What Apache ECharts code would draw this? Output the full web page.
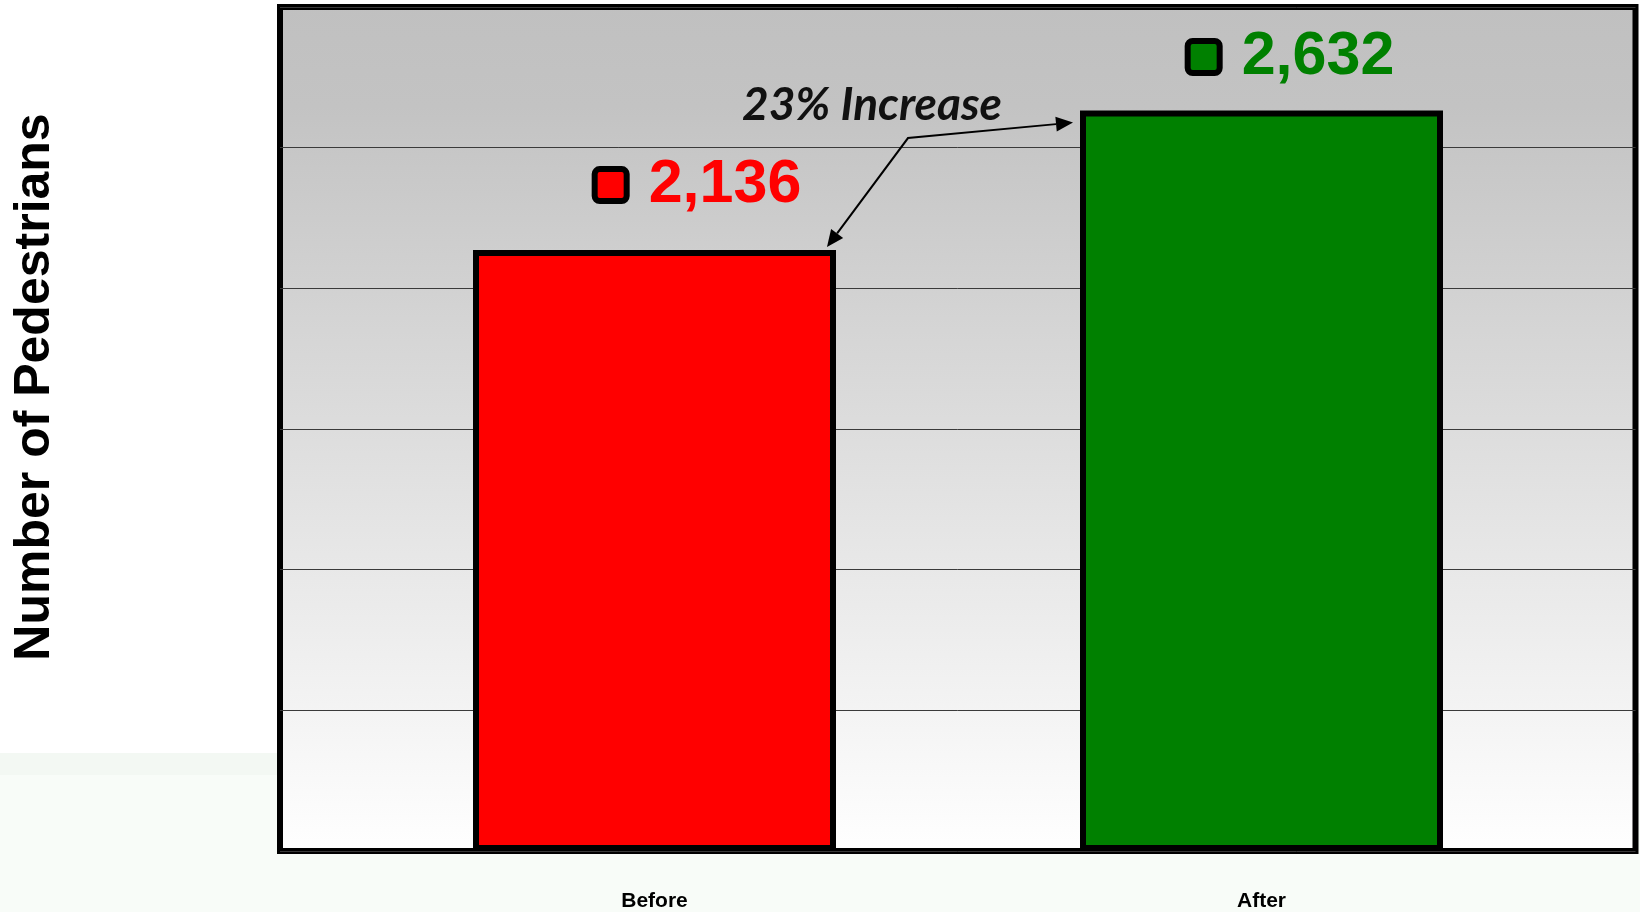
<!DOCTYPE html>
<html>
<head>
<meta charset="utf-8">
<script src="https://cdn.jsdelivr.net/npm/echarts@6/dist/echarts.min.js"></script>
<style>
  html, body { margin: 0; padding: 0; }
  body {
    width: 1640px; height: 912px; overflow: hidden;
    background: linear-gradient(to bottom, #ffffff 0px, #ffffff 753px, #f3f8f3 753px, #f3f8f3 775px, #f8fcf8 775px, #f8fcf8 912px);
  }
  #chart { width: 1640px; height: 912px; }
</style>
</head>
<body>
<div id="chart"></div>
<script>
// ---- data ----
const categories = ['Before', 'After'];
const pedestrians = [2136, 2632];
const barColors = ['#FF0000', '#008000'];
const yAxisTitle = 'Number of Pedestrians';
const annotationText = '23% Increase';
const yMin = 0, yMax = 3000, yInterval = 500;

// ---- style constants ----
const FONT = "'Liberation Sans', Arial, Helvetica, sans-serif";
const labelOffsets = [[45, -33], [31, -21.5]];
const BAR_WIDTH = 363;

const chart = echarts.init(document.getElementById('chart'), null, { renderer: 'canvas' });

const barData = pedestrians.map((v, i) => ({
  value: v,
  itemStyle: { color: barColors[i] },
  label: {
    offset: labelOffsets[i],
    rich: {
      sq: { width: 26, height: 26, backgroundColor: barColors[i], borderColor: '#000', borderWidth: 6, borderRadius: 2, verticalAlign: 'middle' },
      gap: { width: 25, verticalAlign: 'middle' },
      v: { fontSize: 61, fontWeight: 'bold', fontFamily: FONT, color: barColors[i], lineHeight: 64, verticalAlign: 'middle' }
    }
  }
}));

const option = {
  backgroundColor: 'transparent',
  animation: false,
  grid: [
    {
      left: 280, top: 7, width: 1355.5, height: 844,
      show: true,
      borderColor: '#000', borderWidth: 6,
      backgroundColor: {
        type: 'linear', x: 0, y: 0, x2: 0, y2: 1,
        colorStops: [
          { offset: 0, color: '#c0c0c0' },
          { offset: 0.12, color: '#c3c3c3' },
          { offset: 1, color: '#ffffff' }
        ]
      },
      z: 0
    },
    { left: 351, top: 7, width: 1214, height: 844, z: 2 }
  ],
  xAxis: [
    { gridIndex: 0, type: 'category', data: categories, show: false },
    {
      gridIndex: 1, type: 'category', data: categories,
      axisLine: { show: false }, axisTick: { show: false },
      axisLabel: { margin: 40, fontSize: 21, fontWeight: 'bold', color: '#000', fontFamily: FONT }
    }
  ],
  yAxis: [
    {
      gridIndex: 0, type: 'value', min: yMin, max: yMax, interval: yInterval,
      axisLine: { show: false }, axisTick: { show: false }, axisLabel: { show: false },
      splitLine: { show: true, lineStyle: { color: '#3a3a3a', width: 1 } }
    },
    {
      gridIndex: 1, type: 'value', min: yMin, max: yMax, interval: yInterval,
      show: false, splitLine: { show: false }
    }
  ],
  series: [
    {
      type: 'bar',
      xAxisIndex: 1, yAxisIndex: 1,
      barWidth: BAR_WIDTH,
      data: barData,
      itemStyle: { borderColor: '#000', borderWidth: 6 },
      label: {
        show: true, position: 'top', distance: 0,
        formatter: p => '{sq|}{gap|}{v|' + p.value.toLocaleString('en-US') + '}'
      },
      z: 3
    }
  ]
};
chart.setOption(option);

// ---- annotations derived from the data positions ----
const pB = chart.convertToPixel({ gridIndex: 1 }, [categories[0], pedestrians[0]]);
const pA = chart.convertToPixel({ gridIndex: 1 }, [categories[1], pedestrians[1]]);
const half = BAR_WIDTH / 2;
const tipB = [pB[0] + half - 9, pB[1] - 3];
const tipA = [pA[0] - half - 7, pA[1] + 12];
const knee = [tipB[0] + 81, tipA[1] + 15.5];

function arrowParts(from, tip, len, hw) {
  const dx = tip[0] - from[0], dy = tip[1] - from[1];
  const d = Math.hypot(dx, dy);
  const ux = dx / d, uy = dy / d;
  const base = [tip[0] - ux * len, tip[1] - uy * len];
  const head = [tip, [base[0] - uy * hw, base[1] + ux * hw], [base[0] + uy * hw, base[1] - ux * hw]];
  return { base, head };
}
const aA = arrowParts(knee, tipA, 17, 7.5);
const aB = arrowParts(knee, tipB, 17, 7.5);

chart.setOption({
  graphic: [
    {
      type: 'text', x: 35, y: 387, rotation: Math.PI / 2, z: 10,
      style: { text: yAxisTitle, fontSize: 50, fontWeight: 'bold', fontFamily: FONT, fill: '#000', align: 'center', verticalAlign: 'middle' }
    },
    {
      type: 'text', x: 742, y: 105, z: 10,
      style: { text: annotationText, fontSize: 46, fontWeight: 'bold', fontStyle: 'italic', fontFamily: "Lato, 'Open Sans', sans-serif", fill: '#111', align: 'left', verticalAlign: 'middle' }
    },
    {
      type: 'polyline', z: 10,
      shape: { points: [aB.base, knee, aA.base] },
      style: { stroke: '#000', lineWidth: 2, fill: null }
    },
    { type: 'polygon', z: 10, shape: { points: aA.head }, style: { fill: '#000' } },
    { type: 'polygon', z: 10, shape: { points: aB.head }, style: { fill: '#000' } }
  ]
});
</script>
</body>
</html>
